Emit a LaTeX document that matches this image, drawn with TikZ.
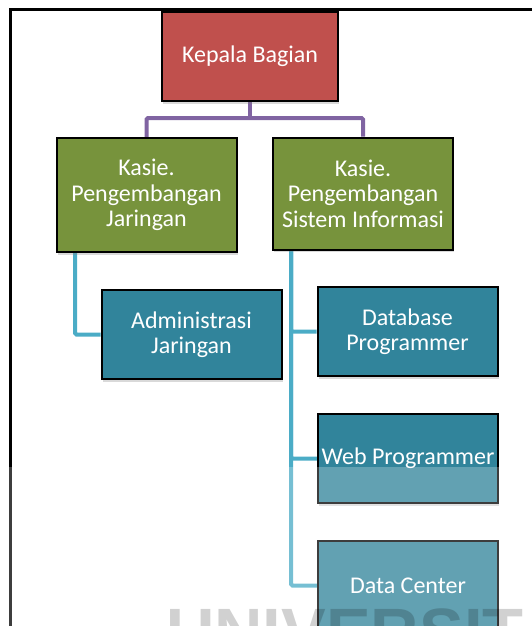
\documentclass[tikz,border=0pt]{standalone}
\usepackage{fontspec}
\setmainfont{Carlito}
\newfontfamily\markfont{Liberation Sans}
\usetikzlibrary{shadows, backgrounds}

\definecolor{headred}{HTML}{C0504D}
\definecolor{kasiegreen}{HTML}{77933C}
\definecolor{stafblue}{HTML}{31849B}
\definecolor{linkpurple}{HTML}{8064A2}
\definecolor{linkblue}{HTML}{4BACC6}

\tikzset{
    unitbox/.style={draw=black, line width=2pt, text=white, align=center,
        inner sep=0pt, minimum width=180pt, minimum height=89pt,
        font=\fontsize{24}{25.5}\selectfont,
        drop shadow={opacity=0.3, shadow xshift=1pt, shadow yshift=-2.5pt}},
    headbox/.style={unitbox, fill=headred, minimum width=176pt},
    kasiebox/.style={unitbox, fill=kasiegreen, minimum height=114pt},
    stafbox/.style={unitbox, fill=stafblue},
    toplink/.style={draw=linkpurple, line width=4pt, rounded corners=1.5pt},
    sublink/.style={draw=linkblue, line width=4pt, rounded corners=1.5pt}
}

\begin{document}
\begin{tikzpicture}[x=1pt,y=-1pt]
    \useasboundingbox (0,0) rectangle (532,626);
    \clip (0,0) rectangle (532,626);
    \draw[line width=3pt] (10.5,10) rectangle (560,660);
    \node[headbox] (kepala) at (250,56.5) {Kepala Bagian};
    \node[kasiebox] (kasiejar) at (146.5,195) {Kasie.\\Pengembangan\\Jaringan};
    \node[kasiebox, minimum height=112pt] (kasiesi) at (363,193.5) {Kasie.\\Pengembangan\\Sistem Informasi};
    \node[stafbox] (admin) at (191.5,334.5) {Administrasi\\Jaringan};
    \node[stafbox] (dbprog) at (407.5,331.5) {Database\\Programmer};
    \node[stafbox] (webprog) at (408,458.5) {Web Programmer};
    \node[stafbox] (dcenter) at (408,585.5) {Data Center};
    \coordinate (split) at (250,118);
    \coordinate (busjar) at (75,252);
    \coordinate (bussi) at (291,249);
    \begin{scope}[on background layer]
    \draw[toplink] (kepala.south) -- (split);
    \draw[toplink] (kasiejar.north) |- (split) -| (kasiesi.north);
    \draw[sublink] (busjar) |- (admin.west);
    \draw[sublink] (bussi) |- (dbprog.west);
    \draw[sublink] (bussi) |- (webprog.west);
    \draw[sublink] (bussi) |- (dcenter.west);
    \end{scope}
    \fill[white, opacity=0.24] (0,467) rectangle (532,626);
    \node[anchor=base west, inner sep=0pt, text=black, text opacity=0.18,
        font=\markfont\bfseries\fontsize{67}{67}\selectfont] (mark) at (166,655) {UNIVERSIT};
\end{tikzpicture}
\end{document}
